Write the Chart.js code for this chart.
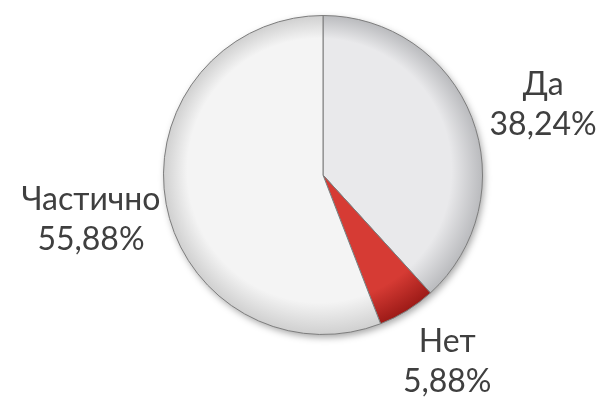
<!DOCTYPE html>
<html>
<head>
<meta charset="utf-8">
<script src="https://cdn.jsdelivr.net/npm/chart.js@4"></script>
<style>
  html, body { margin: 0; padding: 0; background: #fff; }
  #wrap { width: 600px; height: 401px; position: relative; }
</style>
</head>
<body>
<div id="wrap"><canvas id="pieChart"></canvas></div>
<script>
const labels = ["Да", "Нет", "Частично"];
const values = [38.24, 5.88, 55.88];
const pctLabels = ["38,24%", "5,88%", "55,88%"];

// fill per slice: [inner, outer rim]
const sliceShades = [
    ["#e9e9eb", "#b9babd"],
    ["#d63b34", "#9c1a17"],
    ["#f4f4f4", "#cfcfcf"],
];

function sliceFill(context) {
    const chart = context.chart;
    const area = chart.chartArea;
    const shades = sliceShades[context.dataIndex];
    if (!area) return shades[0];
    const cx = (area.left + area.right) / 2;
    const cy = (area.top + area.bottom) / 2;
    const r = Math.min(area.right - area.left, area.bottom - area.top) / 2;
    const g = chart.ctx.createRadialGradient(cx - 20, cy - 25, 5, cx, cy, r);
    g.addColorStop(0, shades[0]);
    g.addColorStop(0.82, shades[0]);
    g.addColorStop(1, shades[1]);
    return g;
}

// soft shadow under the pie
const shadowPlugin = {
    id: "pieShadow",
    beforeDatasetsDraw(chart) {
        const arc = chart.getDatasetMeta(0).data[0];
        if (!arc) return;
        const ctx = chart.ctx;
        ctx.save();
        ctx.shadowColor = "rgba(0,0,0,0.35)";
        ctx.shadowBlur = 7;
        ctx.shadowOffsetX = 2;
        ctx.shadowOffsetY = 3;
        ctx.beginPath();
        ctx.arc(arc.x, arc.y, arc.outerRadius, 0, Math.PI * 2);
        ctx.fillStyle = "#ddd";
        ctx.fill();
        ctx.restore();
    },
};

// category and percentage outside each slice
const outerLabels = {
    id: "outerLabels",
    afterDatasetsDraw(chart) {
        const ctx = chart.ctx;
        const arcs = chart.getDatasetMeta(0).data;
        ctx.save();
        ctx.fillStyle = "#3f3f3f";
        ctx.font = "32px Lato, 'Open Sans', sans-serif";
        ctx.textAlign = "center";
        ctx.textBaseline = "middle";
        arcs.forEach((arc, i) => {
            const mid = (arc.startAngle + arc.endAngle) / 2;
            const x = arc.x + Math.cos(mid) * arc.outerRadius * 1.48;
            const y = arc.y + 6 + Math.sin(mid) * arc.outerRadius * 1.33;
            ctx.fillText(labels[i], x, y - 20);
            ctx.fillText(pctLabels[i], x, y + 20);
        });
        ctx.restore();
    },
};

const ctx = document.getElementById("pieChart").getContext("2d");
new Chart(ctx, {
    type: "pie",
    data: {
        labels: labels,
        datasets: [
            {
                data: values,
                backgroundColor: sliceFill,
                borderColor: "#7d7d7d",
                borderWidth: 1,
            },
        ],
    },
    options: {
        responsive: true,
        maintainAspectRatio: false,
        animation: false,
        layout: { padding: { top: 15, bottom: 66, left: 163, right: 117 } },
        plugins: {
            legend: { display: false },
            tooltip: { enabled: false },
        },
    },
    plugins: [shadowPlugin, outerLabels],
});
</script>
</body>
</html>
